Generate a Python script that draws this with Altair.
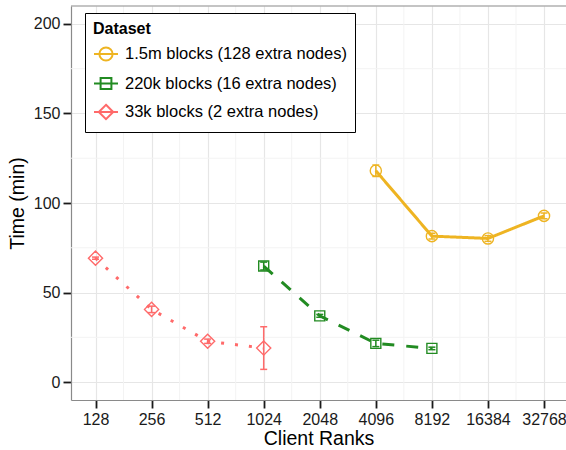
import altair as alt
import pandas as pd

# Series: client ranks vs. time in minutes, with error half-widths
datasets = [
    "1.5m blocks (128 extra nodes)",
    "220k blocks (16 extra nodes)",
    "33k blocks (2 extra nodes)",
]
colors = ["#EEB422", "#228B22", "#FF6A6A"]

ranks_15m = [4096, 8192, 16384, 32768]
time_15m = [118.0, 81.5, 80.2, 92.8]
err_15m = [3.2, 1.6, 1.6, 1.6]

ranks_220k = [1024, 2048, 4096, 8192]
time_220k = [64.8, 37.0, 21.6, 18.8]
err_220k = [2.2, 0.8, 1.8, 0.7]

ranks_33k = [128, 256, 512, 1024]
time_33k = [69.2, 40.6, 22.8, 19.0]
err_33k = [0.6, 1.8, 1.2, 11.9]

x_ticks = [128, 256, 512, 1024, 2048, 4096, 8192, 16384, 32768]
y_ticks = [0, 50, 100, 150, 200]
y_minor = [25, 75, 125, 175]
x_minor = [(a * b) ** 0.5 for a, b in zip(x_ticks[:-1], x_ticks[1:])]

rows = []
for name, rs, ts, es in [
    (datasets[0], ranks_15m, time_15m, err_15m),
    (datasets[1], ranks_220k, time_220k, err_220k),
    (datasets[2], ranks_33k, time_33k, err_33k),
]:
    for r, t, e in zip(rs, ts, es):
        rows.append({"dataset": name, "ranks": r, "time": t, "lo": t - e, "hi": t + e})
df = pd.DataFrame(rows)

W, H = 495, 394
FONT = "Liberation Sans"

xscale = alt.Scale(type="log", base=2, domain=[2 ** 6.563, 2 ** 15.392], nice=False)
yscale = alt.Scale(domain=[-10, 210], nice=False, zero=False)
cscale = alt.Scale(domain=datasets, range=colors)

x_axis = alt.Axis(
    values=x_ticks, format="d", title="Client Ranks", grid=True,
    labelFlush=False, labelOverlap=False,
)
y_axis = alt.Axis(values=y_ticks, format="d", title="Time (min)", grid=True)

base = alt.Chart(df)

# legend glyphs: a line segment with the series marker on it
legend_paths = [
    "M-1,0L1,0M0.55,0A0.55,0.55,0,1,1,-0.55,0A0.55,0.55,0,1,1,0.55,0",
    "M-1,0L1,0M-0.45,-0.45L0.45,-0.45L0.45,0.45L-0.45,0.45Z",
    "M-1,0L1,0M0,-0.6L0.6,0L0,0.6L-0.6,0Z",
]
legend_cfg = dict(
    title="Dataset", orient="none", legendX=14, legendY=7,
    padding=8, strokeColor="black", fillColor="white", cornerRadius=0,
    titleFont=FONT, titleFontSize=16, titleFontWeight="bold", titleColor="black",
    titlePadding=4, labelFont=FONT, labelFontSize=16.5, labelColor="black",
    labelLimit=400, labelOffset=6, symbolSize=576, symbolStrokeWidth=2,
    symbolFillColor="transparent", rowPadding=5.5,
)
# invisible layer that carries the axes and the legend
guide_layer = base.mark_point(opacity=0, filled=False, strokeWidth=2).encode(
    x=alt.X("ranks:Q", scale=xscale, axis=x_axis),
    y=alt.Y("time:Q", scale=yscale, axis=y_axis),
    stroke=alt.Stroke("dataset:N", scale=cscale, legend=alt.Legend(**legend_cfg)),
    shape=alt.Shape(
        "dataset:N",
        scale=alt.Scale(domain=datasets, range=legend_paths),
        legend=alt.Legend(**legend_cfg),
    ),
)

# light minor grid
xminor = alt.Chart(pd.DataFrame({"v": x_minor})).mark_rule(
    color="#f3f3f3", strokeWidth=1
).encode(x=alt.X("v:Q", scale=xscale))
yminor = alt.Chart(pd.DataFrame({"v": y_minor})).mark_rule(
    color="#f3f3f3", strokeWidth=1
).encode(y=alt.Y("v:Q", scale=yscale))

# panel top border
top_border = alt.Chart(alt.Data(values=[{"k": 0}])).mark_rule(
    color="#8a8a8a", strokeWidth=1.2
).encode(x=alt.value(0), x2=alt.value(W), y=alt.value(0))

# one line layer per series: solid, dashed, dotted
dash_styles = [[1, 0], [12, 12], [3, 11]]
lines = []
for name, dash in zip(datasets, dash_styles):
    lines.append(
        base.transform_filter(alt.datum.dataset == name)
        .mark_line(strokeWidth=3, strokeCap="butt", strokeDash=dash)
        .encode(
            x=alt.X("ranks:Q", scale=xscale),
            y=alt.Y("time:Q", scale=yscale),
            stroke=alt.Stroke("dataset:N", scale=cscale),
        )
    )

ebar = base.mark_rule(strokeWidth=1.5).encode(
    x=alt.X("ranks:Q", scale=xscale),
    y=alt.Y("lo:Q", scale=yscale),
    y2="hi:Q",
    stroke=alt.Stroke("dataset:N", scale=cscale),
)
# error bar caps as short horizontal strokes
cap_lo = base.mark_point(shape="stroke", size=49, strokeWidth=1.5, opacity=1).encode(
    x=alt.X("ranks:Q", scale=xscale),
    y=alt.Y("lo:Q", scale=yscale),
    stroke=alt.Stroke("dataset:N", scale=cscale),
)
cap_hi = base.mark_point(shape="stroke", size=49, strokeWidth=1.5, opacity=1).encode(
    x=alt.X("ranks:Q", scale=xscale),
    y=alt.Y("hi:Q", scale=yscale),
    stroke=alt.Stroke("dataset:N", scale=cscale),
)

marker_shapes = ["circle", "square", "diamond"]
marker_sizes = [125, 100, 200]
markers = []
for name, shp, sz in zip(datasets, marker_shapes, marker_sizes):
    markers.append(
        base.transform_filter(alt.datum.dataset == name)
        .mark_point(shape=shp, size=sz, filled=False, strokeWidth=1.4, opacity=1)
        .encode(
            x=alt.X("ranks:Q", scale=xscale),
            y=alt.Y("time:Q", scale=yscale),
            stroke=alt.Stroke("dataset:N", scale=cscale),
        )
    )

chart = (
    alt.layer(guide_layer, xminor, yminor, *lines, ebar, cap_lo, cap_hi, *markers, top_border)
    .properties(
        width=W, height=H,
        autosize=alt.AutoSizeParams(type="none"),
        padding={"left": 71, "top": 6, "right": 0, "bottom": 50},
    )
    .configure(font=FONT)
    .configure_view(stroke=None)
    .configure_axis(
        labelFont=FONT, labelFontSize=16, labelColor="#1a1a1a",
        titleFont=FONT, titleFontSize=19.5, titleFontWeight="normal", titleColor="black",
        tickColor="#1a1a1a", tickSize=8, tickWidth=1.8,
        domainColor="#8a8a8a", domainWidth=1.2,
        gridColor="#e6e6e6", gridWidth=1.2,
        labelPadding=3,
    )
    .configure_axisX(titlePadding=2)
    .configure_axisY(titlePadding=6)
)

chart.save("out.html", embed_options={"renderer": "svg", "actions": False})
